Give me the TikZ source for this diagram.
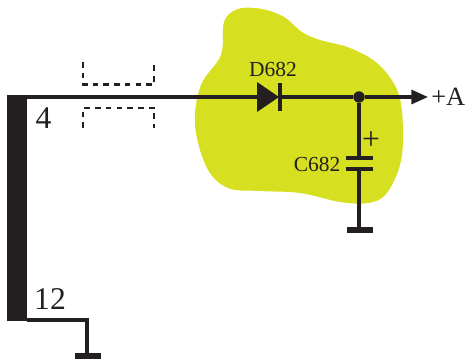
\documentclass[tikz,border=0pt]{standalone}
\usepackage{fontspec}
\setmainfont{Liberation Serif}
\usetikzlibrary{positioning,arrows.meta}
\definecolor{zonecol}{RGB}{214,224,33}
\definecolor{inkcol}{RGB}{35,31,32}
\tikzset{
  wire/.style    ={line width=1.75pt, draw=inkcol},
  ghost/.style   ={line width=1.6pt, draw=inkcol, dash pattern=on 3.2pt off 2.9pt},
  plate/.style   ={line width=1.8pt, draw=inkcol},
  groundbar/.style={line width=3pt, draw=inkcol},
  lab/.style     ={inner sep=0pt, text=inkcol},
}
\begin{document}
\begin{tikzpicture}[x=0.02cm, y=-0.02cm, line cap=butt, line join=miter]
  \useasboundingbox (0,0) rectangle (466,358);

  %--- Yellow zone round the diode and capacitor ---
  \fill[zonecol] plot[smooth cycle, tension=0.6] coordinates {
    (238,9) (262,9) (284,17) (302,32) (320,40) (350,48) (378,64) (398,92)
    (403,130) (400,165) (386,194) (368,203) (340,202) (300,193) (260,191)
    (228,188) (207,168) (195,125) (201,85) (221,55) (224,22)};

  %--- Thick bar (connector body) ---
  \fill[inkcol] (7,95.5) rectangle (27,321);

  %--- Points on the main line ---
  \coordinate (start) at (7,97);
  \coordinate (anode) at (257,97);
  \coordinate (cathode) at (279,97);
  \node[circle, fill=inkcol, inner sep=0pt, minimum size=6.5pt] (junction) at (359,97) {};
  \coordinate (tip) at (428,97);

  %--- Main line and output arrow ---
  \draw[wire] (start) -- (anode);
  \draw[wire] (cathode) -- (junction);
  \draw[wire, -{Triangle[length=9.5pt, width=8pt]}] (junction) -- (tip);

  %--- Diode D682 ---
  \fill[inkcol] (257,82) -- (cathode) -- (257,112) -- cycle;
  \draw[wire] (280,83) -- (280,111);
  \node[lab, font=\fontsize{12.2}{14}\selectfont] (dlabel) at (273,69) {D682};

  %--- Capacitor C682 ---
  \coordinate (capA) at (359,158);
  \coordinate (capB) at (359,169);
  \coordinate (gndA) at (359,230);
  \draw[wire] (junction) -- (capA);
  \draw[wire] (capB) -- (gndA);
  \draw[plate] (346,158) -- (373,158);
  \draw[plate] (346,169) -- (373,169);
  \draw[groundbar] (347,230) -- (373,230);
  \node[lab, font=\fontsize{12.2}{14}\selectfont] (clabel) at (317,164) {C682};
  \node[lab, font=\fontsize{18}{20}\selectfont] (plus) at (371,141) {+};
  \node[lab, font=\fontsize{15}{17}\selectfont, anchor=west] (out) at (431,97) {+A};

  %--- Dashed outline above and below the line ---
  \draw[ghost] (83,62) -- (83,84.5) -- (154,84.5) -- (154,62);
  \draw[ghost] (83,128) -- (83,108) -- (154,108) -- (154,128);

  %--- Pins 4 and 12 ---
  \node[lab, font=\fontsize{18}{20}\selectfont] (pinA) at (43.5,118) {4};
  \node[lab, font=\fontsize{18}{20}\selectfont] (pinB) at (50,299) {12};

  %--- Lower ground ---
  \coordinate (lowA) at (27,320);
  \coordinate (lowB) at (87,320);
  \coordinate (gndB) at (87,356);
  \draw[wire] (lowA) -- (lowB) -- (gndB);
  \draw[groundbar] (75,356) -- (101,356);
\end{tikzpicture}
\end{document}
